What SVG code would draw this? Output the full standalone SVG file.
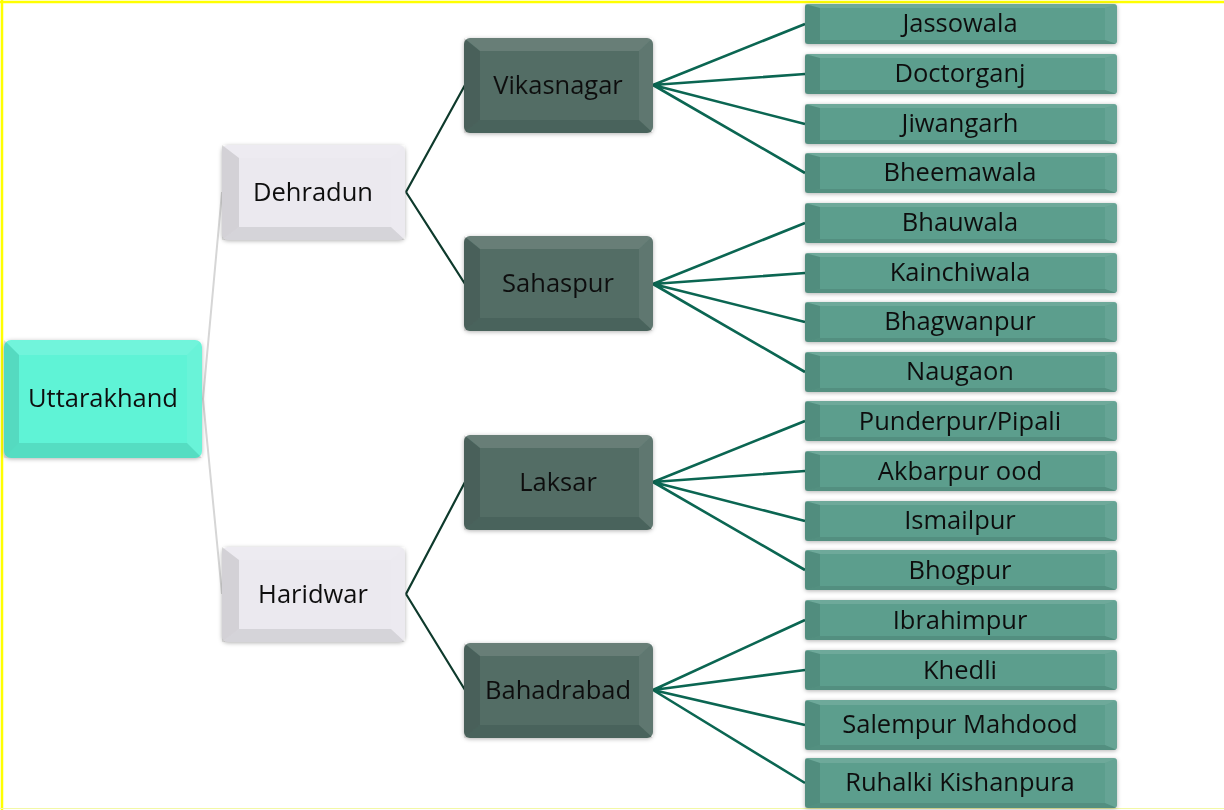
<svg xmlns="http://www.w3.org/2000/svg" width="1224" height="810" viewBox="0 0 1224 810">
<style>
  text{font-family:"Open Sans","Noto Sans","Liberation Sans",sans-serif;font-size:25.5px;fill:#111;text-anchor:middle}
  .root{fill:#5ef3d6}
  .dist{fill:#ebe9ef}
  .mid{fill:#526d65}
  .leaf{fill:#5b9e8d}
  .bt{fill:#fff;fill-opacity:.12}
  .bl{fill:#000;fill-opacity:.1}
  .br{fill:#fff;fill-opacity:.07}
  .bb{fill:#000;fill-opacity:.09}
  .c1{stroke:#d6d6d6;stroke-width:2;fill:none}
  .c2{stroke:#0e3a2c;stroke-width:2.2;fill:none}
  .c3{stroke:#0b6652;stroke-width:2.6;fill:none}
  .frame{stroke:#ffff00;stroke-width:2.5}
</style>
<defs>
  <filter id="sh" x="-10%" y="-20%" width="120%" height="140%">
    <feDropShadow dx="0" dy="1" stdDeviation="2" flood-color="#000" flood-opacity=".3"/>
  </filter>
  <g id="bvR">
    <polygon class="bt" points="0,0 198,0 183,15 15,15"/>
    <polygon class="bb" points="0,118 198,118 183,103 15,103"/>
    <polygon class="bl" points="0,0 15,15 15,103 0,118"/>
    <polygon class="br" points="198,0 183,15 183,103 198,118"/>
  </g>
  <g id="bvD">
    <polygon class="bt" points="0,0 183,0 169,13 17,13"/>
    <polygon class="bb" points="0,95 183,95 169,82 17,82"/>
    <polygon class="bl" points="0,0 17,13 17,82 0,95"/>
    <polygon class="br" points="183,0 169,13 169,82 183,95"/>
  </g>
  <g id="bvM">
    <polygon class="bt" points="0,0 189,0 175,13 16,13"/>
    <polygon class="bb" points="0,95 189,95 175,82 16,82"/>
    <polygon class="bl" points="0,0 16,13 16,82 0,95"/>
    <polygon class="br" points="189,0 175,13 175,82 189,95"/>
  </g>
  <g id="bvL">
    <polygon class="bt" points="0,0 312,0 300,4 15,4"/>
    <polygon class="bb" points="0,40 312,40 300,36 15,36"/>
    <polygon class="bl" points="0,0 15,4 15,36 0,40"/>
    <polygon class="br" points="312,0 300,4 300,36 312,40"/>
  </g>
  <g id="bvL5">
    <polygon class="bt" points="0,0 312,0 300,5 15,5"/>
    <polygon class="bb" points="0,50 312,50 300,45 15,45"/>
    <polygon class="bl" points="0,0 15,5 15,45 0,50"/>
    <polygon class="br" points="312,0 300,5 300,45 312,50"/>
  </g>
</defs>
<rect width="1224" height="810" fill="#fff"/>
<line class="frame" x1="0" y1="2" x2="1224" y2="2"/>
<line class="frame" x1="2" y1="0" x2="2" y2="810"/>
<line x1="0" y1="808.5" x2="1224" y2="808.5" stroke="#f3f8a6" stroke-width="1"/>

<g id="connectors">
  <path class="c1" d="M203,399 L222,192 M203,399 L222,594"/>
  <path class="c2" d="M406,192 L465,85 M406,192 L465,284 M406,594 L465,482 M406,594 L465,690"/>
  <path class="c3" d="M653,85 L805,24 M653,85 L805,74 M653,85 L805,124 M653,85 L805,173"/>
  <path class="c3" d="M653,284 L805,223 M653,284 L805,273 M653,284 L805,322 M653,284 L805,372"/>
  <path class="c3" d="M653,482 L805,421 M653,482 L805,471 M653,482 L805,521 M653,482 L805,570"/>
  <path class="c3" d="M653,690 L805,620 M653,690 L805,670 M653,690 L805,725 M653,690 L805,783"/>
</g>

<g id="n-uttarakhand" filter="url(#sh)"><rect class="root" x="4" y="340" width="198" height="118" rx="7"/><use href="#bvR" x="4" y="340"/><text x="103" y="407">Uttarakhand</text></g>
<g id="n-dehradun" filter="url(#sh)"><rect class="dist" x="222" y="145" width="183" height="95" rx="6"/><use href="#bvD" x="222" y="145"/><text x="313" y="201">Dehradun</text></g>
<g id="n-haridwar" filter="url(#sh)"><rect class="dist" x="222" y="547" width="183" height="95" rx="6"/><use href="#bvD" x="222" y="547"/><text x="313" y="603">Haridwar</text></g>

<g id="n-vikasnagar" filter="url(#sh)"><rect class="mid" x="464" y="38" width="189" height="95" rx="6"/><use href="#bvM" x="464" y="38"/><text x="558" y="94">Vikasnagar</text></g>
<g id="n-sahaspur" filter="url(#sh)"><rect class="mid" x="464" y="236" width="189" height="95" rx="6"/><use href="#bvM" x="464" y="236"/><text x="558" y="292">Sahaspur</text></g>
<g id="n-laksar" filter="url(#sh)"><rect class="mid" x="464" y="435" width="189" height="95" rx="6"/><use href="#bvM" x="464" y="435"/><text x="558" y="491">Laksar</text></g>
<g id="n-bahadrabad" filter="url(#sh)"><rect class="mid" x="464" y="643" width="189" height="95" rx="6"/><use href="#bvM" x="464" y="643"/><text x="558" y="699">Bahadrabad</text></g>

<g id="n-jassowala" filter="url(#sh)"><rect class="leaf" x="805" y="4" width="312" height="40" rx="3"/><use href="#bvL" x="805" y="4"/><text x="960" y="32">Jassowala</text></g>
<g id="n-doctorganj" filter="url(#sh)"><rect class="leaf" x="805" y="54" width="312" height="40" rx="3"/><use href="#bvL" x="805" y="54"/><text x="960" y="82">Doctorganj</text></g>
<g id="n-jiwangarh" filter="url(#sh)"><rect class="leaf" x="805" y="104" width="312" height="40" rx="3"/><use href="#bvL" x="805" y="104"/><text x="960" y="132">Jiwangarh</text></g>
<g id="n-bheemawala" filter="url(#sh)"><rect class="leaf" x="805" y="153" width="312" height="40" rx="3"/><use href="#bvL" x="805" y="153"/><text x="960" y="181">Bheemawala</text></g>
<g id="n-bhauwala" filter="url(#sh)"><rect class="leaf" x="805" y="203" width="312" height="40" rx="3"/><use href="#bvL" x="805" y="203"/><text x="960" y="231">Bhauwala</text></g>
<g id="n-kainchiwala" filter="url(#sh)"><rect class="leaf" x="805" y="253" width="312" height="40" rx="3"/><use href="#bvL" x="805" y="253"/><text x="960" y="281">Kainchiwala</text></g>
<g id="n-bhagwanpur" filter="url(#sh)"><rect class="leaf" x="805" y="302" width="312" height="40" rx="3"/><use href="#bvL" x="805" y="302"/><text x="960" y="330">Bhagwanpur</text></g>
<g id="n-naugaon" filter="url(#sh)"><rect class="leaf" x="805" y="352" width="312" height="40" rx="3"/><use href="#bvL" x="805" y="352"/><text x="960" y="380">Naugaon</text></g>
<g id="n-punderpur" filter="url(#sh)"><rect class="leaf" x="805" y="401" width="312" height="40" rx="3"/><use href="#bvL" x="805" y="401"/><text x="960" y="430">Punderpur/Pipali</text></g>
<g id="n-akbarpur" filter="url(#sh)"><rect class="leaf" x="805" y="451" width="312" height="40" rx="3"/><use href="#bvL" x="805" y="451"/><text x="960" y="480">Akbarpur ood</text></g>
<g id="n-ismailpur" filter="url(#sh)"><rect class="leaf" x="805" y="501" width="312" height="40" rx="3"/><use href="#bvL" x="805" y="501"/><text x="960" y="529">Ismailpur</text></g>
<g id="n-bhogpur" filter="url(#sh)"><rect class="leaf" x="805" y="550" width="312" height="40" rx="3"/><use href="#bvL" x="805" y="550"/><text x="960" y="579">Bhogpur</text></g>
<g id="n-ibrahimpur" filter="url(#sh)"><rect class="leaf" x="805" y="600" width="312" height="40" rx="3"/><use href="#bvL" x="805" y="600"/><text x="960" y="629">Ibrahimpur</text></g>
<g id="n-khedli" filter="url(#sh)"><rect class="leaf" x="805" y="650" width="312" height="40" rx="3"/><use href="#bvL" x="805" y="650"/><text x="960" y="679">Khedli</text></g>
<g id="n-salempur" filter="url(#sh)"><rect class="leaf" x="805" y="700" width="312" height="50" rx="3"/><use href="#bvL5" x="805" y="700"/><text x="960" y="733">Salempur Mahdood</text></g>
<g id="n-ruhalki" filter="url(#sh)"><rect class="leaf" x="805" y="758" width="312" height="50" rx="3"/><use href="#bvL5" x="805" y="758"/><text x="960" y="791">Ruhalki Kishanpura</text></g>
</svg>
